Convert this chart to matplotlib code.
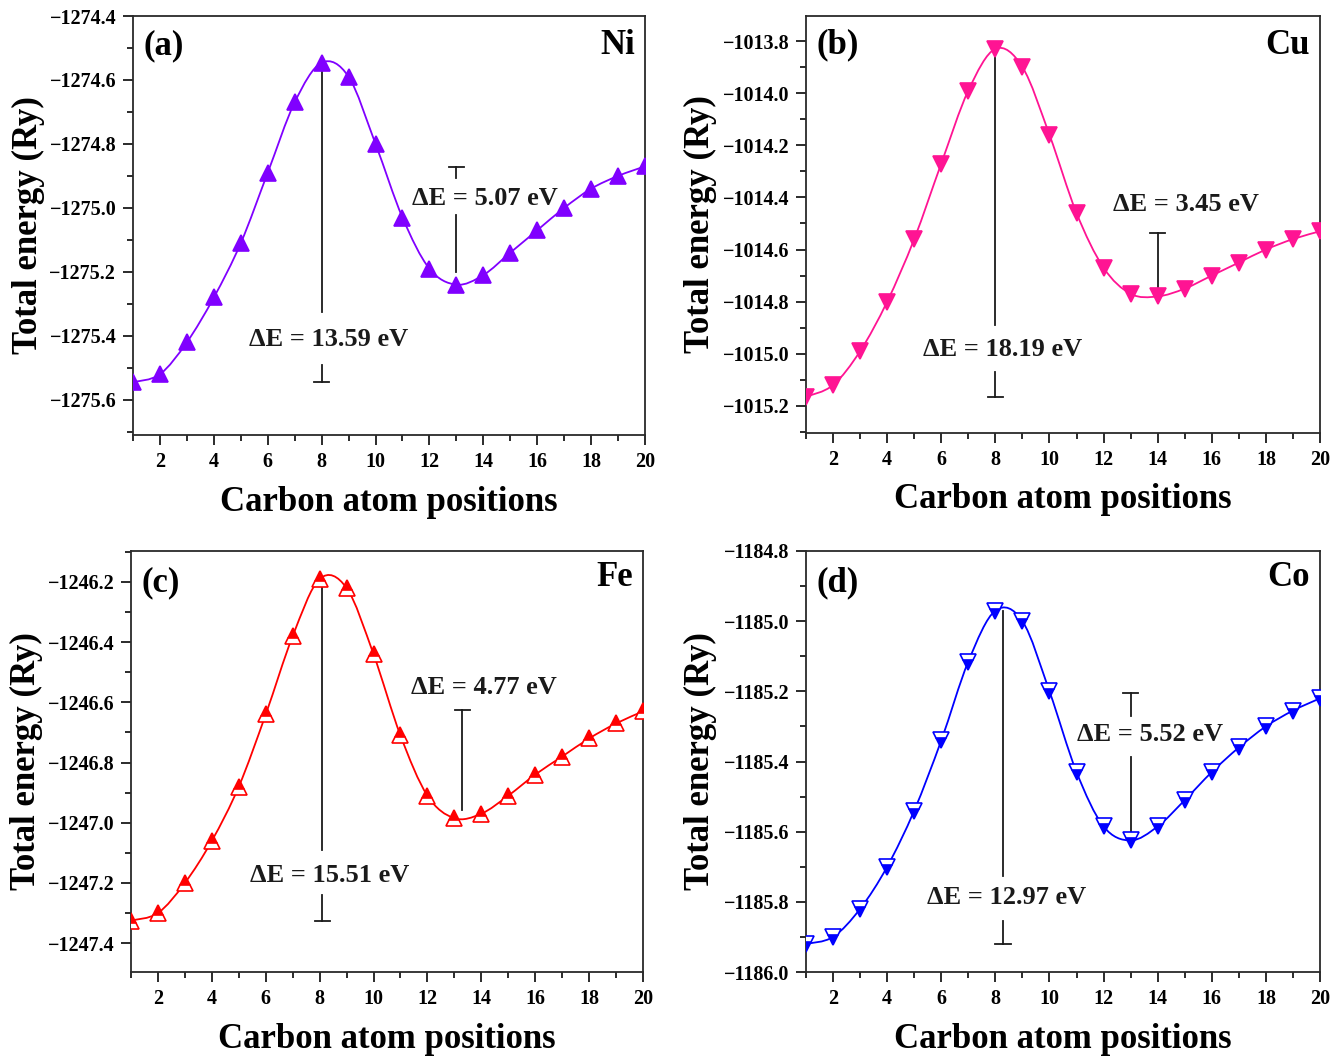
import numpy as np
import matplotlib
matplotlib.use("Agg")
import matplotlib.pyplot as plt
from matplotlib.path import Path
from matplotlib.patches import PathPatch
from matplotlib.ticker import MultipleLocator

plt.rcParams["font.family"] = ["Liberation Serif", "DejaVu Serif"]
plt.rcParams["font.weight"] = "bold"
plt.rcParams["axes.unicode_minus"] = True

# carbon atom positions 1..20
positions = np.arange(1, 21)

ni_energy = [-1275.545, -1275.52, -1275.42, -1275.28, -1275.11, -1274.89, -1274.67, -1274.546,
             -1274.59, -1274.80, -1275.03, -1275.19, -1275.24, -1275.21, -1275.14, -1275.07,
             -1275.00, -1274.94, -1274.90, -1274.87]
cu_energy = [-1015.165, -1015.12, -1014.99, -1014.80, -1014.56, -1014.27, -1013.99, -1013.83,
             -1013.90, -1014.16, -1014.46, -1014.67, -1014.77, -1014.78, -1014.75, -1014.70,
             -1014.65, -1014.60, -1014.56, -1014.53]
fe_energy = [-1247.325, -1247.30, -1247.20, -1247.06, -1246.88, -1246.64, -1246.38, -1246.19,
             -1246.22, -1246.44, -1246.71, -1246.91, -1246.985, -1246.97, -1246.91, -1246.84,
             -1246.78, -1246.72, -1246.67, -1246.63]
co_energy = [-1185.92, -1185.90, -1185.82, -1185.70, -1185.54, -1185.34, -1185.115, -1184.97,
             -1185.00, -1185.20, -1185.43, -1185.585, -1185.625, -1185.585, -1185.51, -1185.43,
             -1185.36, -1185.30, -1185.255, -1185.22]

metals = ["Ni", "Cu", "Fe", "Co"]
panel_tags = ["(a)", "(b)", "(c)", "(d)"]
barrier_main = ["13.59", "18.19", "15.51", "12.97"]
barrier_second = ["5.07", "3.45", "4.77", "5.52"]


def smooth_path(x, y):
    # catmull-rom through the points, written as cubic bezier segments
    x = np.asarray(x, float)
    y = np.asarray(y, float)
    px = np.concatenate([[x[0]], x, [x[-1]]])
    py = np.concatenate([[y[0]], y, [y[-1]]])
    verts = [(x[0], y[0])]
    codes = [Path.MOVETO]
    for i in range(1, len(px) - 2):
        c1 = (px[i] + (px[i + 1] - px[i - 1]) / 6, py[i] + (py[i + 1] - py[i - 1]) / 6)
        c2 = (px[i + 1] - (px[i + 2] - px[i]) / 6, py[i + 1] - (py[i + 2] - py[i]) / 6)
        verts += [c1, c2, (px[i + 1], py[i + 1])]
        codes += [Path.CURVE4] * 3
    return Path(verts, codes)


fig = plt.figure(figsize=(13.44, 10.61), dpi=100)

rects = [
    [133 / 1344, 1 - 435 / 1061, 512 / 1344, 419 / 1061],
    [806 / 1344, 1 - 433 / 1061, 514 / 1344, 417 / 1061],
    [131 / 1344, 1 - 972 / 1061, 512 / 1344, 421 / 1061],
    [806 / 1344, 1 - 972 / 1061, 514 / 1344, 421 / 1061],
]
ylims = [(-1275.71, -1274.4), (-1015.304, -1013.704), (-1247.496, -1246.097), (-1186.0, -1184.8)]
colors = ["#8000ff", "#ff1493", "#ff0000", "#0000ff"]
markers = ["^", "v", "^", "v"]
fills = ["full", "full", "top", "bottom"]
energies = [ni_energy, cu_energy, fe_energy, co_energy]

# annotation layout: (x, upper line end, text y, lower line start, text x)
main_ann = [
    (8.0, -1275.325, -1275.4125, -1275.49, 8.24),
    (8.0, -1014.889, -1014.985, -1015.07, 8.28),
    (8.1, -1247.091, -1247.174, -1247.24, 8.38),
    (8.28, -1185.725, -1185.788, -1185.854, 8.43),
]
# (x, cap y, line1 end, text y, line2 start, line2 end, text x)
second_ann = [
    (13.0, -1274.872, -1274.906, -1274.97, -1275.022, -1275.2, 14.06),
    (14.0, -1014.536, -1014.763, -1014.429, None, None, 15.05),
    (13.3, -1246.626, -1246.958, -1246.552, None, None, 14.1),
    (13.0, -1185.204, -1185.27, -1185.324, -1185.387, -1185.60, 13.72),
]
tag_y = [0.93, 0.93, 0.924, 0.925]
metal_y = [0.93, 0.93, 0.936, 0.936]

for k in range(4):
    ax = fig.add_axes(rects[k])
    e = energies[k]
    c = colors[k]

    ax.add_patch(PathPatch(smooth_path(positions, e), facecolor="none", edgecolor=c, lw=1.3, zorder=2))
    ax.plot(positions, e, linestyle="none", marker=markers[k], ms=11, color=c,
            markerfacecolor=c, markerfacecoloralt="white", markeredgecolor=c,
            markeredgewidth=1.2, fillstyle=fills[k], zorder=3)

    # barrier between position 1 and the peak
    xa, top_end, ty, low_start, tx = main_ann[k]
    e_peak = max(e)
    e_start = e[0]
    ax.plot([xa, xa], [e_peak, top_end], color="#1a1a1a", lw=1.3, zorder=1)
    ax.plot([xa, xa], [low_start, e_start], color="#1a1a1a", lw=1.3, zorder=1)
    ax.plot([xa - 0.28, xa + 0.28], [e_start, e_start], color="#1a1a1a", lw=1.3)
    ax.text(tx, ty, "ΔE = " + barrier_main[k] + " eV", ha="center", va="center",
            fontsize=19, fontweight="bold", color="#1a1a1a")

    # second barrier near the minimum
    xb, cap, l1, ty2, l2a, l2b, tx2 = second_ann[k]
    ax.plot([xb - 0.27, xb + 0.27], [cap, cap], color="#1a1a1a", lw=1.3)
    ax.plot([xb, xb], [cap, l1], color="#1a1a1a", lw=1.3, zorder=1)
    if l2a is not None:
        ax.plot([xb, xb], [l2a, l2b], color="#1a1a1a", lw=1.3, zorder=1)
    ax.text(tx2, ty2, "ΔE = " + barrier_second[k] + " eV", ha="center", va="center",
            fontsize=19, fontweight="bold", color="#1a1a1a")

    ax.text(0.02, tag_y[k], panel_tags[k], transform=ax.transAxes, ha="left", va="center",
            fontsize=25, fontweight="bold")
    ax.text(0.98, metal_y[k], metals[k], transform=ax.transAxes, ha="right", va="center",
            fontsize=25, fontweight="bold")

    ax.set_xlim(1, 20)
    ax.set_ylim(*ylims[k])
    ax.xaxis.set_major_locator(MultipleLocator(2))
    ax.xaxis.set_minor_locator(MultipleLocator(1))
    ax.yaxis.set_major_locator(MultipleLocator(0.2))
    ax.yaxis.set_minor_locator(MultipleLocator(0.1))
    ax.ticklabel_format(axis="y", useOffset=False)
    ax.tick_params(which="both", direction="out", top=False, right=False, color="#1a1a1a", width=1.3)
    ax.tick_params(which="major", length=7, labelsize=14.5, pad=5)
    ax.tick_params(which="minor", length=4)
    for lab in ax.get_xticklabels() + ax.get_yticklabels():
        lab.set_fontweight("bold")
    for s in ax.spines.values():
        s.set_linewidth(1.3)
        s.set_color("#2a2a2a")

    ax.set_xlabel("Carbon atom positions", fontsize=25, fontweight="bold")
    ax.set_ylabel("Total energy (Ry)", fontsize=25, fontweight="bold")
    ax.xaxis.label.set_va("center")
    ax.yaxis.label.set_va("center")
    ax.xaxis.set_label_coords(0.5, -0.16)
    ax.yaxis.set_label_coords(-0.205, 0.5)

fig.savefig("out.png", dpi=100)
